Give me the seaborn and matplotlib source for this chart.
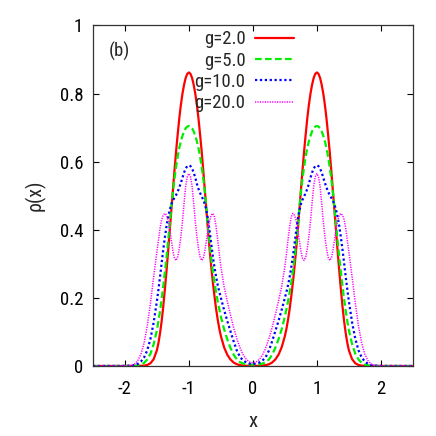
import matplotlib
matplotlib.use("Agg")
import matplotlib.pyplot as plt
import matplotlib.font_manager as fm
import seaborn as sns

# ---- data ----
x = [-2.5, -2.3, -2.1, -2.0, -1.95, -1.9, -1.85, -1.8, -1.75, -1.7, -1.65, -1.6, -1.55, -1.5,
     -1.475, -1.45, -1.425, -1.4, -1.375, -1.35, -1.325, -1.3, -1.275, -1.25, -1.225, -1.2, -1.175, -1.15, -1.125, -1.1, -1.075, -1.05, -1.025,
     -1.0,
     -0.975, -0.95, -0.925, -0.9, -0.875, -0.85, -0.825, -0.8, -0.775, -0.75, -0.725, -0.7, -0.675, -0.65, -0.625, -0.6, -0.575, -0.55, -0.525,
     -0.5, -0.45, -0.4, -0.35, -0.3, -0.25, -0.2, -0.15, -0.1, -0.05, 0.0,
     0.05, 0.1, 0.15, 0.2, 0.25, 0.3, 0.35, 0.4, 0.45, 0.5,
     0.525, 0.55, 0.575, 0.6, 0.625, 0.65, 0.675, 0.7, 0.725, 0.75, 0.775, 0.8, 0.825, 0.85, 0.875, 0.9, 0.925, 0.95, 0.975,
     1.0,
     1.025, 1.05, 1.075, 1.1, 1.125, 1.15, 1.175, 1.2, 1.225, 1.25, 1.275, 1.3, 1.325, 1.35, 1.375, 1.4, 1.425, 1.45, 1.475,
     1.5, 1.55, 1.6, 1.65, 1.7, 1.75, 1.8, 1.85, 1.9, 1.95, 2.0, 2.1, 2.3, 2.5]

rho_g2 = [0, 0, 0, 0, 0, 0, 0.0001, 0.0002, 0.0005, 0.001, 0.003, 0.008, 0.02, 0.046,
          0.068, 0.097, 0.132, 0.175, 0.225, 0.278, 0.335, 0.395, 0.455, 0.515, 0.574, 0.63, 0.68, 0.727, 0.767, 0.80, 0.826, 0.846, 0.858,
          0.862,
          0.858, 0.846, 0.826, 0.80, 0.767, 0.727, 0.68, 0.63, 0.574, 0.515, 0.455, 0.395, 0.34, 0.29, 0.245, 0.205, 0.168, 0.137, 0.11,
          0.088, 0.055, 0.033, 0.019, 0.01, 0.005, 0.0025, 0.0012, 0.0006, 0.0003, 0.0002,
          0.0003, 0.0006, 0.0012, 0.0025, 0.005, 0.01, 0.019, 0.033, 0.055, 0.088,
          0.11, 0.137, 0.168, 0.205, 0.245, 0.29, 0.34, 0.395, 0.455, 0.515, 0.574, 0.63, 0.68, 0.727, 0.767, 0.80, 0.826, 0.846, 0.858,
          0.862,
          0.858, 0.846, 0.826, 0.80, 0.767, 0.727, 0.68, 0.63, 0.574, 0.515, 0.455, 0.395, 0.335, 0.278, 0.225, 0.175, 0.132, 0.097, 0.068,
          0.046, 0.02, 0.008, 0.003, 0.001, 0.0005, 0.0002, 0.0001, 0, 0, 0, 0, 0, 0]

rho_g5 = [0, 0, 0, 0.0001, 0.0002, 0.0003, 0.0008, 0.0018, 0.004, 0.009, 0.019, 0.036, 0.064, 0.105,
          0.132, 0.162, 0.197, 0.235, 0.275, 0.318, 0.365, 0.415, 0.465, 0.51, 0.55, 0.585, 0.615, 0.64, 0.66, 0.676, 0.689, 0.698, 0.703,
          0.705,
          0.703, 0.698, 0.689, 0.676, 0.66, 0.64, 0.615, 0.585, 0.55, 0.51, 0.46, 0.405, 0.36, 0.315, 0.278, 0.245, 0.217, 0.19, 0.167,
          0.145, 0.108, 0.078, 0.053, 0.033, 0.019, 0.011, 0.007, 0.005, 0.0045, 0.004,
          0.0045, 0.005, 0.007, 0.011, 0.019, 0.033, 0.053, 0.078, 0.108, 0.145,
          0.167, 0.19, 0.217, 0.245, 0.278, 0.315, 0.36, 0.405, 0.46, 0.51, 0.55, 0.585, 0.615, 0.64, 0.66, 0.676, 0.689, 0.698, 0.703,
          0.705,
          0.703, 0.698, 0.689, 0.676, 0.66, 0.64, 0.615, 0.585, 0.55, 0.51, 0.465, 0.415, 0.365, 0.318, 0.275, 0.235, 0.197, 0.162, 0.132,
          0.105, 0.064, 0.036, 0.019, 0.009, 0.004, 0.0018, 0.0008, 0.0003, 0.0002, 0.0001, 0, 0, 0]

rho_g10 = [0, 0, 0.0001, 0.0003, 0.0006, 0.0013, 0.003, 0.006, 0.013, 0.025, 0.046, 0.08, 0.128, 0.19,
           0.225, 0.263, 0.303, 0.342, 0.378, 0.41, 0.437, 0.458, 0.474, 0.486, 0.494, 0.502, 0.512, 0.524, 0.538, 0.553, 0.568, 0.58, 0.587,
           0.589,
           0.587, 0.58, 0.568, 0.553, 0.535, 0.52, 0.508, 0.498, 0.488, 0.475, 0.455, 0.43, 0.395, 0.358, 0.322, 0.29, 0.262, 0.238, 0.218,
           0.2, 0.165, 0.132, 0.102, 0.072, 0.045, 0.026, 0.016, 0.01, 0.007, 0.006,
           0.007, 0.01, 0.016, 0.026, 0.045, 0.072, 0.102, 0.132, 0.165, 0.2,
           0.218, 0.238, 0.262, 0.29, 0.322, 0.358, 0.395, 0.43, 0.455, 0.475, 0.488, 0.498, 0.508, 0.52, 0.535, 0.553, 0.568, 0.58, 0.587,
           0.589,
           0.587, 0.58, 0.568, 0.553, 0.538, 0.524, 0.512, 0.502, 0.494, 0.486, 0.474, 0.458, 0.437, 0.41, 0.378, 0.342, 0.303, 0.263, 0.225,
           0.19, 0.128, 0.08, 0.046, 0.025, 0.013, 0.006, 0.003, 0.0013, 0.0006, 0.0003, 0.0001, 0, 0]

rho_g20 = [0, 0, 0.0001, 0.0005, 0.001, 0.0025, 0.006, 0.015, 0.034, 0.067, 0.118, 0.185, 0.262, 0.335,
           0.37, 0.405, 0.43, 0.443, 0.448, 0.443, 0.428, 0.403, 0.37, 0.338, 0.316, 0.31, 0.32, 0.345, 0.38, 0.425, 0.478, 0.528, 0.556,
           0.565,
           0.556, 0.528, 0.478, 0.425, 0.38, 0.345, 0.32, 0.31, 0.316, 0.338, 0.37, 0.403, 0.428, 0.443, 0.448, 0.438, 0.41, 0.372, 0.33,
           0.292, 0.233, 0.19, 0.15, 0.112, 0.08, 0.053, 0.032, 0.019, 0.012, 0.009,
           0.012, 0.019, 0.032, 0.053, 0.08, 0.112, 0.15, 0.19, 0.233, 0.292,
           0.33, 0.372, 0.41, 0.438, 0.448, 0.443, 0.428, 0.403, 0.37, 0.338, 0.316, 0.31, 0.32, 0.345, 0.38, 0.425, 0.478, 0.528, 0.556,
           0.565,
           0.556, 0.528, 0.478, 0.425, 0.38, 0.345, 0.32, 0.31, 0.316, 0.338, 0.37, 0.403, 0.428, 0.443, 0.448, 0.443, 0.43, 0.405, 0.37,
           0.335, 0.262, 0.185, 0.118, 0.067, 0.034, 0.015, 0.006, 0.0025, 0.001, 0.0005, 0.0001, 0, 0]

labels = ["g=2.0", "g=5.0", "g=10.0", "g=20.0"]
xtick_vals = [-2, -1, 0, 1, 2]
xtick_labels = ["-2", "-1", "0", "1", "2"]
ytick_vals = [0, 0.2, 0.4, 0.6, 0.8, 1.0]
ytick_labels = ["0", "0.2", "0.4", "0.6", "0.8", "1"]

# ---- style ----
sns.set_style("ticks")

# look for a narrow / condensed sans face (the reference uses one)
preferred = ["Liberation Sans Narrow", "Arial Narrow", "Nimbus Sans Narrow",
             "Roboto Condensed", "DejaVu Sans Condensed", "Noto Sans Condensed",
             "Open Sans Condensed"]
avail = {}
for f in fm.fontManager.ttflist:
    avail.setdefault(f.name, []).append(f)
chosen_family, chosen_stretch = None, "normal"
for name in preferred:
    if name in avail:
        chosen_family = name
        break
if chosen_family is None:
    for f in fm.fontManager.ttflist:
        st = str(f.stretch)
        if (st in ("condensed", "semi-condensed", "extra-condensed")
                and f.style == "normal" and "Mono" not in f.name and "Serif" not in f.name):
            chosen_family, chosen_stretch = f.name, st
            break
narrow = chosen_family is not None
if narrow:
    plt.rcParams['font.family'] = [chosen_family, 'DejaVu Sans']
    plt.rcParams['font.stretch'] = chosen_stretch
    fs = 13.5
else:
    plt.rcParams['font.family'] = ['Liberation Sans', 'DejaVu Sans']
    fs = 11.5

fig = plt.figure(figsize=(4.36, 4.36), dpi=100)
ax = fig.add_axes([0.213, 0.1606, 0.734, 0.781])

series = [rho_g2, rho_g5, rho_g10, rho_g20]
colors = ["#ff0000", "#00ee00", "#0000ff", "#ff00ff"]
widths = [1.6, 1.6, 1.6, 1.1]
styles = ["-", (0, (3, 1.5)), (0, (1, 1.2)), (0, (0.8, 0.8))]

for rho, lab, c, lw, ls in zip(series, labels, colors, widths, styles):
    sns.lineplot(x=x, y=rho, ax=ax, color=c, linewidth=lw, linestyle=ls,
                 label=lab, estimator=None, sort=False)

ax.set_xlim(-2.5, 2.5)
ax.set_ylim(0, 1)
ax.set_xticks(xtick_vals)
ax.set_xticklabels(xtick_labels)
ax.set_yticks(ytick_vals)
ax.set_yticklabels(ytick_labels)
ax.tick_params(direction='in', length=4, width=0.8, top=True, right=True,
               labelsize=fs, colors='black')
ax.tick_params(axis='x', pad=10)
ax.tick_params(axis='y', pad=7)
for s in ax.spines.values():
    s.set_linewidth(0.9)
    s.set_color('#333333')

ax.set_xlabel("x", fontsize=fs + 1.5, labelpad=10)
ax.set_ylabel("ρ(x)", fontsize=fs + 1, labelpad=10)

ax.text(-2.25, 0.925, "(b)", fontsize=fs, ha='left', va='center')

leg = ax.legend(loc='upper right', bbox_to_anchor=(0.629, 0.986), frameon=False,
                markerfirst=False, fontsize=fs, handlelength=2.1,
                handletextpad=0.5, labelspacing=0.18 if narrow else 0.4,
                borderpad=0, borderaxespad=0)

fig.savefig("out.png", dpi=100)
